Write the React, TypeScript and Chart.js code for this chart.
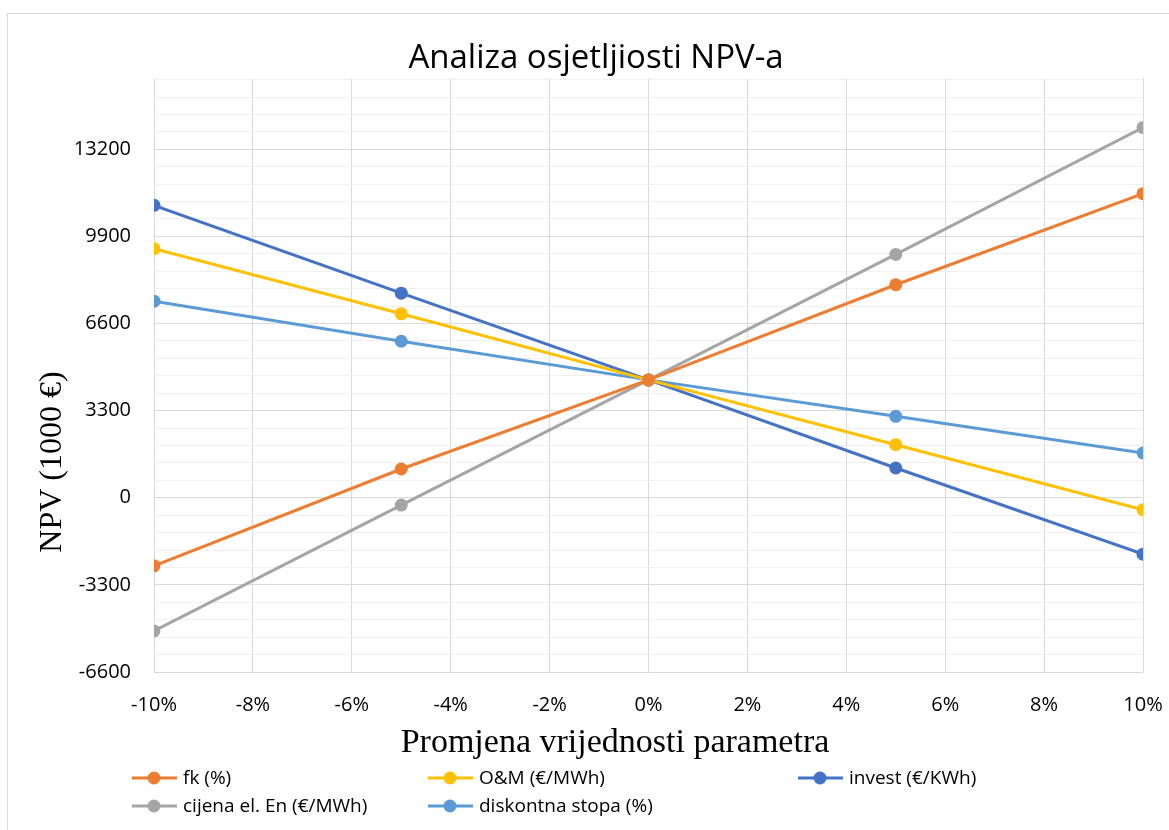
import React, { useEffect, useRef } from "react";
import { Chart, registerables } from "chart.js";

Chart.register(...registerables);

const xValues = [-10, -5, 0, 5, 10];
const seriesLabels = ["fk (%)", "O&M (€/MWh)", "invest (€/KWh)", "cijena el. En (€/MWh)", "diskontna stopa (%)"];
const seriesColors = ["#ED7D31", "#FFC000", "#4472C4", "#A5A5A5", "#5B9BD5"];
const fk = [-2579, 1089, 4465, 8068, 11519];
const om = [9433, 6968, 4465, 2010, -455];
const invest = [11076, 7750, 4465, 1127, -2136];
const cijena = [-5045, -277, 4465, 9217, 14023];
const diskontna = [7446, 5929, 4465, 3084, 1695];
const seriesValues = [fk, om, invest, cijena, diskontna];

const titleText = "Analiza osjetljiosti NPV-a";
const yTitle = "NPV (1000 €)";
const xTitle = "Promjena vrijednosti parametra";
const yMin = -6600;
const yMax = 15900;
const yMajor = 3300;
const yMinor = 660;
const xMin = -10;
const xMax = 10;
const xStep = 2;

const SANS = "'Open Sans', sans-serif";
const SERIF = "'Liberation Serif', 'Times New Roman', serif";

const decorPlugin = {
  id: "decor",
  beforeDraw(chart: any) {
    const ctx = chart.ctx;
    ctx.save();
    ctx.fillStyle = "#ffffff";
    ctx.fillRect(0, 0, chart.width, chart.height);
    ctx.strokeStyle = "#d9d9d9";
    ctx.lineWidth = 1;
    ctx.strokeRect(7.5, 13.5, 3000, 3000);
    ctx.restore();
  },
  afterDraw(chart: any) {
    const ctx = chart.ctx;
    ctx.save();
    ctx.fillStyle = "#000000";
    // title
    ctx.font = `33px ${SANS}`;
    ctx.textAlign = "center";
    ctx.textBaseline = "alphabetic";
    ctx.fillText(titleText, 596, 68);
    // x title
    ctx.font = `34px ${SERIF}`;
    ctx.fillText(xTitle, 615, 752);
    // y title
    ctx.save();
    ctx.translate(61, 462);
    ctx.rotate(-Math.PI / 2);
    ctx.font = `32px ${SERIF}`;
    ctx.fillText(yTitle, 0, 0);
    ctx.restore();
    // legend
    const cols = [132, 428, 798];
    const rows = [778, 806];
    ctx.font = `19px ${SANS}`;
    ctx.textAlign = "left";
    ctx.textBaseline = "middle";
    chart.data.datasets.forEach((ds: any, i: number) => {
      const x0 = cols[i % 3];
      const y0 = rows[Math.floor(i / 3)];
      ctx.strokeStyle = ds.borderColor;
      ctx.lineWidth = 3;
      ctx.beginPath();
      ctx.moveTo(x0, y0);
      ctx.lineTo(x0 + 45, y0);
      ctx.stroke();
      ctx.fillStyle = ds.backgroundColor;
      ctx.beginPath();
      ctx.arc(x0 + 22, y0, 6.5, 0, Math.PI * 2);
      ctx.fill();
      ctx.fillStyle = "#000000";
      ctx.fillText(ds.label, x0 + 51, y0 + 1);
    });
    ctx.restore();
  },
};

export default function App() {
  const ref = useRef<HTMLCanvasElement | null>(null);
  useEffect(() => {
    if (!ref.current) return;
    const datasets = seriesValues.map((vals, i) => ({
      label: seriesLabels[i],
      data: vals.map((v, j) => ({ x: xValues[j], y: v })),
      borderColor: seriesColors[i],
      backgroundColor: seriesColors[i],
      pointBackgroundColor: seriesColors[i],
      pointBorderColor: seriesColors[i],
      borderWidth: 3,
      pointRadius: 6.5,
      pointBorderWidth: 0,
      tension: 0,
    }));
    const chart = new Chart(ref.current, {
      type: "line",
      data: { datasets },
      plugins: [decorPlugin],
      options: {
        animation: false,
        responsive: false,
        devicePixelRatio: 1,
        layout: { padding: { top: 78, right: 26, left: 0, bottom: 0 } },
        plugins: { legend: { display: false }, title: { display: false }, tooltip: { enabled: false } },
        scales: {
          x: {
            type: "linear",
            min: xMin,
            max: xMax,
            ticks: {
              stepSize: xStep,
              padding: 21,
              color: "#000",
              font: { family: SANS, size: 20 },
              callback: (v: any) => `${v}%`,
            },
            grid: { color: "#d9d9d9", lineWidth: 1, drawTicks: false },
            border: { display: false },
            afterFit: (s: any) => {
              s.height = 158;
              s.paddingLeft = 0;
              s.paddingRight = 0;
            },
          },
          y: {
            min: yMin,
            max: yMax,
            afterBuildTicks: (s: any) => {
              const t = [];
              for (let v = yMin; v <= yMax; v += yMinor) t.push({ value: v });
              s.ticks = t;
            },
            ticks: {
              autoSkip: false,
              padding: 23,
              color: "#000",
              font: { family: SANS, size: 20 },
              callback: (v: any) => (Math.round(v) % yMajor === 0 ? String(Math.round(v)) : ""),
            },
            grid: {
              drawTicks: false,
              lineWidth: 1,
              color: (c: any) => (c.tick && Math.round(c.tick.value) % yMajor === 0 ? "#d9d9d9" : "#f0f0f0"),
            },
            border: { display: false },
            afterFit: (s: any) => {
              s.width = 154;
              s.paddingTop = 0;
              s.paddingBottom = 0;
            },
          },
        },
      },
    });
    return () => chart.destroy();
  }, []);
  return (
    <div style={{ position: "fixed", left: 0, top: 0, width: 1169, height: 830, background: "#fff" }}>
      <canvas ref={ref} width={1169} height={830} style={{ width: 1169, height: 830, display: "block" }} />
    </div>
  );
}
